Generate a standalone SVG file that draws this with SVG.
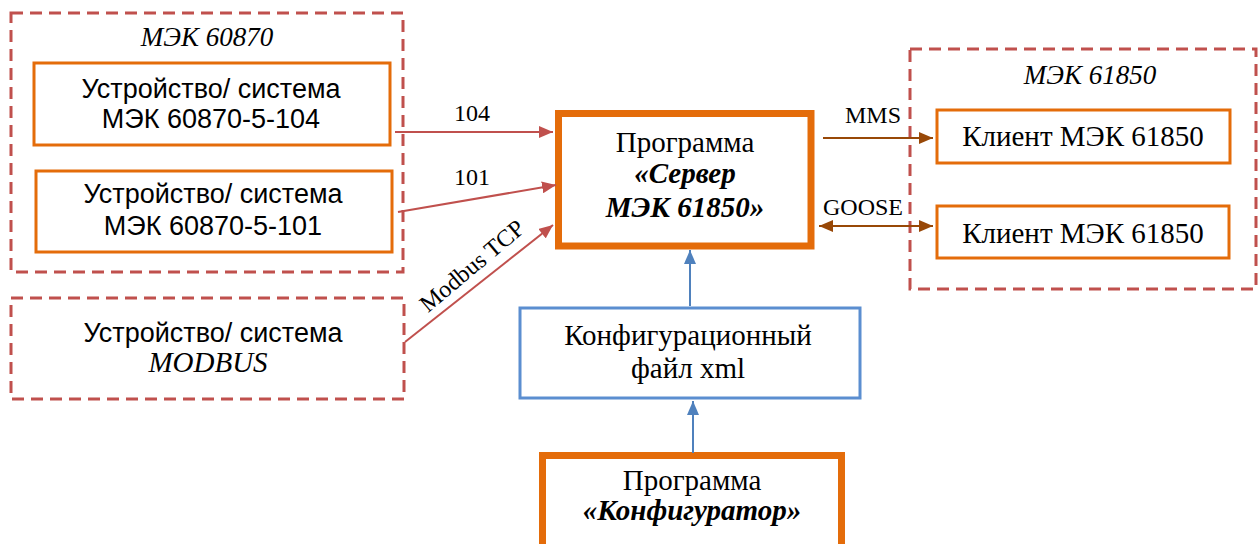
<svg xmlns="http://www.w3.org/2000/svg" width="1258" height="544" viewBox="0 0 1258 544">
<defs>
<style>
.grp{fill:none;stroke:#C0504D;stroke-width:3;stroke-dasharray:12 7}
.ob{fill:#fff;stroke:#E46C0A;stroke-width:3}
.obt{fill:#fff;stroke:#E46C0A;stroke-width:7}
.bb{fill:#fff;stroke:#5B8ED0;stroke-width:3}
.sans{font-family:"Liberation Sans",Arial,sans-serif;font-size:27px;fill:#000;text-anchor:middle}
.ser{font-family:"Liberation Serif","Times New Roman",serif;font-size:29px;fill:#000;text-anchor:middle}
.ttl{font-family:"Liberation Serif","Times New Roman",serif;font-size:27px;font-style:italic;fill:#000;text-anchor:middle}
.lbl{font-family:"Liberation Serif","Times New Roman",serif;font-size:24px;fill:#000;text-anchor:middle}
.it{font-style:italic}
.bi{font-style:italic;font-weight:bold}
.red{stroke:#C0504D;stroke-width:2;fill:none}
.brn{stroke:#984807;stroke-width:2;fill:none}
.blu{stroke:#4F81BD;stroke-width:2;fill:none}
</style>
<marker id="ar" viewBox="0 0 14 12" refX="14" refY="6" markerWidth="14" markerHeight="12" markerUnits="userSpaceOnUse" orient="auto-start-reverse"><path d="M0,0 L14,6 L0,12 Z" fill="#C0504D"/></marker>
<marker id="ab" viewBox="0 0 14 12" refX="14" refY="6" markerWidth="14" markerHeight="12" markerUnits="userSpaceOnUse" orient="auto-start-reverse"><path d="M0,0 L14,6 L0,12 Z" fill="#984807"/></marker>
<marker id="au" viewBox="0 0 14 12" refX="14" refY="6" markerWidth="14" markerHeight="12" markerUnits="userSpaceOnUse" orient="auto-start-reverse"><path d="M0,0 L14,6 L0,12 Z" fill="#4F81BD"/></marker>
</defs>
<rect width="1258" height="544" fill="#fff"/>

<g id="group-iec60870">
<rect class="grp" x="11" y="13" width="392" height="259"/>
<text class="ttl" x="207" y="46">МЭК 60870</text>
</g>
<g id="dev-104">
<rect class="ob" x="34" y="63" width="356" height="82"/>
<text class="sans" x="211" y="98">Устройство/ система</text>
<text class="sans" x="211" y="128">МЭК 60870-5-104</text>
</g>
<g id="dev-101">
<rect class="ob" x="36" y="171" width="356" height="81"/>
<text class="sans" x="213" y="203">Устройство/ система</text>
<text class="sans" x="213" y="235">МЭК 60870-5-101</text>
</g>
<g id="dev-modbus">
<rect class="grp" x="11" y="298" width="393" height="101"/>
<text class="sans" x="213" y="342">Устройство/ система</text>
<text class="ser it" x="208" y="372">MODBUS</text>
</g>
<g id="server">
<rect class="obt" x="558.5" y="113.5" width="252.5" height="132.5"/>
<text class="ser" x="685" y="152">Программа</text>
<text class="ser bi" x="685" y="183">«Сервер</text>
<text class="ser bi" x="685" y="217">МЭК 61850»</text>
</g>
<g id="group-iec61850">
<rect class="grp" x="910" y="49" width="346" height="240"/>
<text class="ttl" x="1090" y="84">МЭК 61850</text>
</g>
<g id="client-1">
<rect class="ob" x="937" y="110" width="293" height="53"/>
<text class="ser" x="1083" y="146">Клиент МЭК 61850</text>
</g>
<g id="client-2">
<rect class="ob" x="937" y="206" width="292" height="52"/>
<text class="ser" x="1083" y="243">Клиент МЭК 61850</text>
</g>
<g id="config-file">
<rect class="bb" x="520" y="308" width="340" height="90"/>
<text class="ser" x="688" y="345">Конфигурационный</text>
<text class="ser" x="688" y="378">файл xml</text>
</g>
<g id="configurator">
<rect class="obt" x="542.5" y="455.5" width="299" height="100"/>
<text class="ser" x="692" y="490">Программа</text>
<text class="ser bi" x="692" y="520">«Конфигуратор»</text>
</g>

<g id="connectors">
<line class="red" x1="395" y1="132" x2="553" y2="132" marker-end="url(#ar)"/>
<text class="lbl" x="472" y="121">104</text>
<line class="red" x1="398" y1="212" x2="556" y2="185" marker-end="url(#ar)"/>
<text class="lbl" x="472" y="185">101</text>
<line class="red" x1="405" y1="342" x2="553" y2="225" marker-end="url(#ar)"/>
<text class="lbl" x="0" y="0" transform="translate(477,272) rotate(-40)">Modbus TCP</text>
<line class="brn" x1="823" y1="138" x2="933" y2="138" marker-end="url(#ab)"/>
<text class="lbl" x="873" y="123">MMS</text>
<line class="brn" x1="819" y1="226" x2="933" y2="226" marker-start="url(#ab)" marker-end="url(#ab)"/>
<text class="lbl" x="863" y="215">GOOSE</text>
<line class="blu" x1="690" y1="306" x2="690" y2="250" marker-end="url(#au)"/>
<line class="blu" x1="693" y1="453" x2="693" y2="401" marker-end="url(#au)"/>
</g>
</svg>
